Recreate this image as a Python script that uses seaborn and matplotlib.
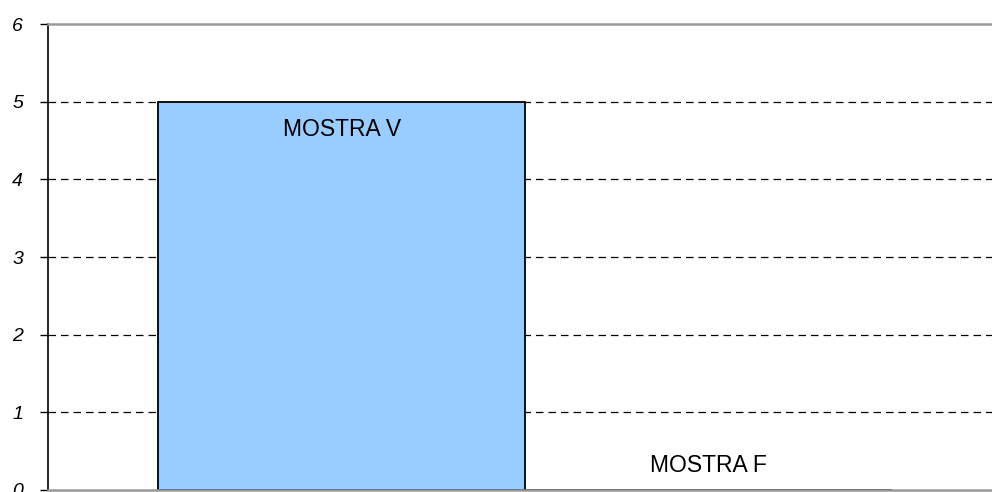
import matplotlib
matplotlib.use("Agg")
import matplotlib.pyplot as plt
import seaborn as sns
import pandas as pd

# data
samples = ["MOSTRA V", "MOSTRA F"]
counts = [5, 0]
y_ticks = [0, 1, 2, 3, 4, 5, 6]

df = pd.DataFrame({"sample": samples, "count": counts})

sns.set_style("white")
plt.rcParams["font.family"] = ["Liberation Sans", "DejaVu Sans"]
plt.rcParams["text.color"] = "black"
plt.rcParams["ytick.labelcolor"] = "black"

fig = plt.figure(figsize=(9.92, 4.92), dpi=100)
ax = fig.add_axes([48 / 992, 2 / 492, 944 / 992, 466 / 492])

sns.barplot(data=df, x="sample", y="count", ax=ax, width=1.0,
            color="#99CCFF", edgecolor="black", linewidth=1.3, saturation=1)

ax.set_ylim(0, 6)
ax.set_xlim(-0.80, 1.772)
ax.set_yticks(y_ticks)
ax.set_yticklabels([str(t) for t in y_ticks], fontstyle="italic", fontsize=14,
                   color="black")
ax.set_xticks([])
ax.set_xlabel("")
ax.set_ylabel("")
ax.tick_params(axis="y", direction="out", length=6, width=1, color="black",
               pad=12, left=True)

for t in y_ticks[1:-1]:
    ax.axhline(t, color="black", lw=0.9, ls=(0, (6, 4)), zorder=0)

ax.spines["left"].set_color("black")
ax.spines["left"].set_linewidth(1.2)
ax.spines["top"].set_color("#999999")
ax.spines["top"].set_linewidth(1.8)
ax.spines["bottom"].set_color("#999999")
ax.spines["bottom"].set_linewidth(1.8)
ax.spines["right"].set_visible(False)

# bar labels
for i, (name, val) in enumerate(zip(samples, counts)):
    y = val - 0.36 if val > 0.5 else 0.32
    ax.text(i, y, name, ha="center", va="center", fontsize=16.5, color="black")

fig.savefig("out.png", dpi=100)
